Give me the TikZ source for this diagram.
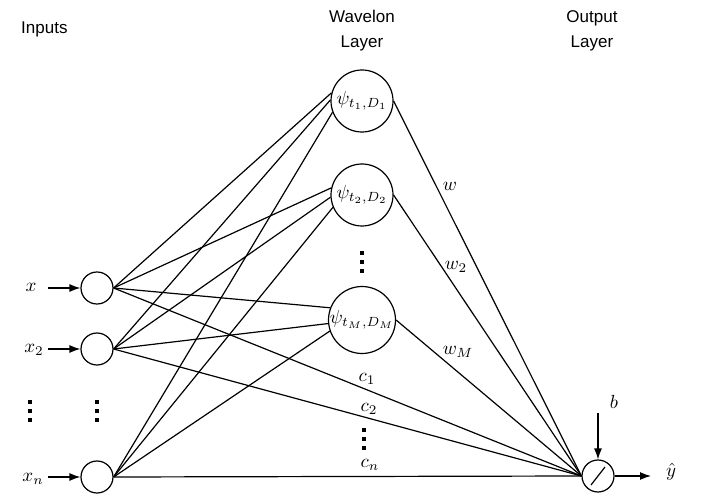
\documentclass[tikz,border=0pt]{standalone}
\usepackage{graphicx}
\usepackage{fontspec}
\setmainfont{Liberation Sans}
\usetikzlibrary{arrows.meta}
\newcommand{\maglab}[1]{\scalebox{1.9}{#1}}
\tikzset{
  vdots3/.pic={\foreach \d in {-9,0,9} \fill (-2,\d-2) rectangle (2,\d+2);}
}
\begin{document}
\begin{tikzpicture}[x=1pt,y=-1pt,
  neuron/.style={circle, draw, line width=1.2pt, minimum size=32pt, inner sep=0pt},
  wavelon/.style={circle, draw, line width=1.2pt, minimum size=62pt, inner sep=0pt},
  link/.style={line width=1.2pt},
  feed/.style={line width=1.2pt, -{Latex[length=11pt,width=8pt]}},
  head/.style={font=\fontsize{17}{25}\selectfont, align=center, inner sep=0pt},
  mlab/.style={inner sep=0pt},
]
\useasboundingbox (0,0) rectangle (702,497);

% column headings
\node[head, anchor=west] (hin) at (21,29) {Inputs};
\node[head] (hwav) at (362,31) {Wavelon\\Layer};
\node[head] (hout) at (592,31) {Output\\Layer};

% input neurons
\node[neuron] (i1) at (97,288) {};
\node[neuron] (i2) at (97,349) {};
\node[neuron] (in) at (97,477) {};

\node[mlab] (lx1) at (31,287) {\maglab{$x$}};
\node[mlab] (lx2) at (34,350) {\maglab{$x_2$}};
\node[mlab] (lxn) at (33,479) {\maglab{$x_n$}};
\coordinate (s1) at (48,288);
\coordinate (s2) at (48,349);
\coordinate (sn) at (48,477);
\draw[feed] (s1) -- (i1.west);
\draw[feed] (s2) -- (i2.west);
\draw[feed] (sn) -- (in.west);

\pic at (30,411) {vdots3};
\pic at (97,411) {vdots3};

% wavelon layer
\node[wavelon] (h1) at (362,101) {\maglab{$\psi_{t_1,D_1}$}};
\node[wavelon] (h2) at (362,195) {\maglab{$\psi_{t_2,D_2}$}};
\node[wavelon] (h3) at (362,320) {\maglab{$\psi_{t_M,D_M}$}};
\pic at (362,262) {vdots3};

% output neuron
\node[neuron] (o) at (598,476) {};
\draw[link] ([shift={(-7,9)}]o.center) -- ([shift={(7,-9)}]o.center);

\node[mlab] (lb) at (614,402) {\maglab{$b$}};
\coordinate (bs) at (598,413);
\draw[feed] (bs) -- (o.north);
\coordinate (ye) at (651,476);
\draw[feed] (o.east) -- (ye);
\node[mlab] (ly) at (671,472) {\maglab{$\hat{y}$}};

% inputs to wavelons
\foreach \src/\ea/\eb/\ec in {i1/165/167/159, i2/178/184/186, in/201/203/199} {
  \draw[link] (\src.east) -- (h1.\ea);
  \draw[link] (\src.east) -- (h2.\eb);
  \draw[link] (\src.east) -- (h3.\ec);
}

% direct input-to-output links
\draw[link] (i1.east) -- (o.west);
\draw[link] (i2.east) -- (o.west);
\draw[link] (in.east) -- (o.west);

% wavelons to output
\draw[link] (h1.east) -- (o.west);
\draw[link] (h2.east) -- (o.west);
\draw[link] (h3.east) -- (o.west);

% weight labels
\node[mlab] (lw1) at (450,186) {\maglab{$w$}};
\node[mlab] (lw2) at (456,267) {\maglab{$w_2$}};
\node[mlab] (lwm) at (458,352) {\maglab{$w_M$}};
\node[mlab] (lc1) at (367,379) {\maglab{$c_1$}};
\node[mlab] (lc2) at (369,409) {\maglab{$c_2$}};
\pic at (364,439) {vdots3};
\node[mlab] (lcn) at (370,465) {\maglab{$c_n$}};
\end{tikzpicture}
\end{document}
